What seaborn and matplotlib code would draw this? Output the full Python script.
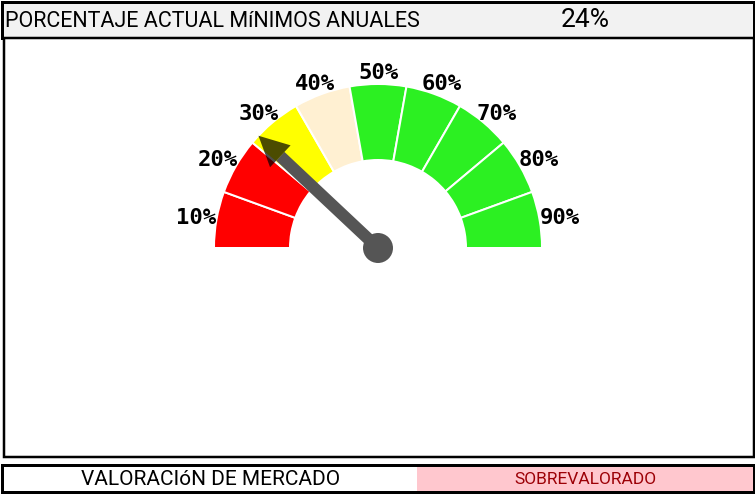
import numpy as np
import matplotlib
matplotlib.use('Agg')
import matplotlib.pyplot as plt
from matplotlib.patches import Wedge, Rectangle, Circle, Polygon
import seaborn as sns

sns.set_theme(style="white")

# ---- data ----
header_label = 'PORCENTAJE ACTUAL MíNIMOS ANUALES'
current_pct = 24
segment_labels = ['10%', '20%', '30%', '40%', '50%', '60%', '70%', '80%', '90%']
segment_colors = ['#ff0000', '#ff0000', '#ffff00', '#fff0d2',
                  '#2cf022', '#2cf022', '#2cf022', '#2cf022', '#2cf022']
footer_label = 'VALORACIóN DE MERCADO'
footer_status = 'SOBREVALORADO'

W, H = 755, 496
PX = 72 / 100  # points per pixel
NARROW = ['Roboto', 'DejaVu Sans']
MONO = ['DejaVu Sans Mono']

fig = plt.figure(figsize=(W / 100, H / 100), dpi=100)
ax = fig.add_axes([0, 0, 1, 1])
ax.set_xlim(0, W)
ax.set_ylim(0, H)
ax.axis('off')

def Y(y):
    return H - y

# ---- boxes ----
ax.add_patch(Rectangle((1.5, Y(38)), 752, 36.5, facecolor='#f2f2f2',
                       edgecolor='black', lw=3 * PX, zorder=1))
ax.add_patch(Rectangle((3.5, Y(456.5)), 750, 418.5, facecolor='white',
                       edgecolor='black', lw=2.5 * PX, zorder=1))
ax.add_patch(Rectangle((417, Y(491.5)), 336.5, 27, facecolor='#ffc7ce',
                       edgecolor='none', zorder=1))
ax.add_patch(Rectangle((1.5, Y(491.5)), 752, 27, facecolor='none',
                       edgecolor='black', lw=3 * PX, zorder=2))

ax.text(5, Y(27), header_label, ha='left', va='baseline', fontsize=15.5,
        family=NARROW, color='black')
ax.text(585, Y(27), f'{current_pct}%', ha='center', va='baseline', fontsize=19,
        family=NARROW, color='black')
ax.text(211, Y(485), footer_label, ha='center', va='baseline', fontsize=15,
        family=NARROW, color='black')
ax.text(585, Y(484), footer_status, ha='center', va='baseline', fontsize=12.5,
        family=NARROW, color='#9c0006')

# ---- gauge ----
cx, cy = 378, Y(248)
r_out, r_in = 164, 88
n = len(segment_labels)
step = 180 / n
for i, (lab, col) in enumerate(zip(segment_labels, segment_colors)):
    t2 = 180 - step * i
    t1 = t2 - step
    ax.add_patch(Wedge((cx, cy), r_out, t1, t2, width=r_out - r_in,
                       facecolor=col, edgecolor='white', lw=2 * PX, zorder=3))
    mid = np.deg2rad((t1 + t2) / 2)
    ax.text(cx + 185 * np.cos(mid), cy + 175 * np.sin(mid), lab,
            ha='center', va='center', fontsize=16, fontweight='bold',
            family=MONO, color='black', zorder=4)

# needle
ang = np.deg2rad(180 - current_pct / 100 * 180)
u = np.array([np.cos(ang), np.sin(ang)])
v = np.array([-u[1], u[0]])
c = np.array([cx, cy])
tip = c + u * 164
base = tip - u * 30
ax.plot([cx, base[0]], [cy, base[1]], color='#555555', lw=12 * PX,
        solid_capstyle='butt', zorder=5)
ax.add_patch(Polygon([tip, base + v * 15, base - v * 15], closed=True,
                     facecolor='black', alpha=0.7, edgecolor='none', zorder=6))
ax.add_patch(Circle((cx, cy), 15, facecolor='#555555', edgecolor='none', zorder=7))

fig.savefig('out.png', dpi=100)
